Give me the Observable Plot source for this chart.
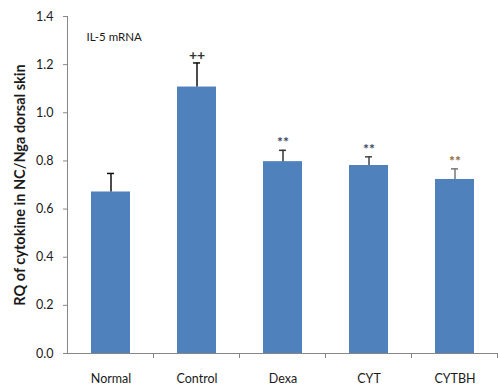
<!DOCTYPE html>
<html>
<head>
<meta charset="utf-8">
<script src="https://cdn.jsdelivr.net/npm/d3@7"></script>
<script src="https://cdn.jsdelivr.net/npm/@observablehq/plot@0.6"></script>
<style>
  html, body { margin: 0; padding: 0; background: #fff; }
</style>
</head>
<body>
<div id="chart"></div>
<script>
// ---- data ----
const categories = ["Normal", "Control", "Dexa", "CYT", "CYTBH"];
const means = [0.671, 1.107, 0.797, 0.781, 0.723];
const sems = [0.077, 0.100, 0.047, 0.036, 0.044];
const markers = ["", "++", "**", "**", "**"];
const yTicks = [0, 0.2, 0.4, 0.6, 0.8, 1.0, 1.2, 1.4];
const panelLabel = "IL-5 mRNA";
const yTitle = "RQ of cytokine in NC/Nga dorsal skin";

// ---- styles (kept separate from data) ----
const barColor = "#4F81BD";
const axisColor = "#868686";
const errColor = {Normal: "#111", Control: "#111", Dexa: "#333", CYT: "#444", CYTBH: "#777"};
const markColor = {Normal: "#333", Control: "#333", Dexa: "#3c4660", CYT: "#3c4660", CYTBH: "#8b6a3a"};

const rows = categories.map((g, i) => ({group: g, mean: means[i], sem: sems[i], marker: markers[i]}));

const plot = Plot.plot({
  width: 498,
  height: 386,
  marginLeft: 67,
  marginRight: 0,
  marginTop: 16,
  marginBottom: 33,
  style: {fontFamily: "Lato, 'Open Sans', sans-serif", fontSize: "12px", color: "#1a1a1a", background: "#fff"},
  x: {domain: categories, paddingInner: 0.55, paddingOuter: 0.275, label: null},
  y: {domain: [0, 1.4], label: null},
  marks: [
    Plot.barY(rows, {x: "group", y: "mean", fill: barColor}),
    Plot.ruleX(rows, {x: "group", y1: "mean", y2: d => d.mean + d.sem, stroke: d => errColor[d.group], strokeWidth: 1.5}),
    Plot.tickY(rows, {x: "group", y: d => d.mean + d.sem, stroke: d => errColor[d.group], strokeWidth: 1.5, inset: 16}),
    Plot.text(rows, {x: "group", y: d => d.mean + d.sem, text: "marker", fill: d => markColor[d.group],
      fontSize: 14, fontWeight: "bold", lineAnchor: "bottom", dy: -3}),
    Plot.ruleY([0], {stroke: axisColor}),
    Plot.axisY({ticks: yTicks, tickFormat: d => d.toFixed(1), tickSize: 4, tickPadding: 10, stroke: axisColor, fontSize: 12.5, label: null}),
    Plot.axisX({tickSize: 0, tickPadding: 21, label: null, fontSize: 12.5}),
    Plot.text([panelLabel], {frameAnchor: "top-left", textAnchor: "start", lineAnchor: "middle", dx: 19, dy: 21, fontSize: 11.5}),
    Plot.text([yTitle], {frameAnchor: "left", rotate: -90, dx: -47, fontWeight: "bold", fontSize: 14.5, textAnchor: "middle", lineAnchor: "middle"})
  ]
});

// y-axis line and x-axis category boundary ticks
const svg = d3.select(plot);
const xs = plot.scale("x");
const ys = plot.scale("y");
const step = xs.step;
const [x0] = xs.range;
const yBase = ys.apply(0);
const yTop = ys.apply(1.4);
svg.append("line").attr("x1", x0 + 0.5).attr("x2", x0 + 0.5).attr("y1", yTop).attr("y2", yBase)
  .attr("stroke", axisColor);
categories.forEach((c, i) => {
  const x = Math.round(x0 + step * (i + 1)) + 0.5;
  svg.append("line").attr("x1", x).attr("x2", x).attr("y1", yBase).attr("y2", yBase + 5).attr("stroke", axisColor);
});

document.getElementById("chart").appendChild(plot);
</script>
</body>
</html>
